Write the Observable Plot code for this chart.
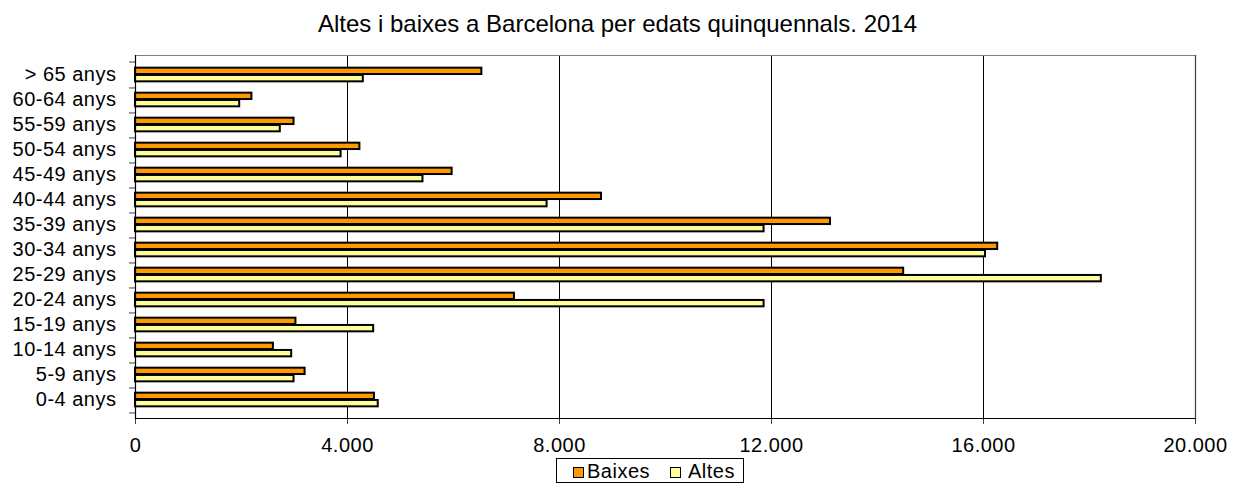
<!DOCTYPE html>
<html><head><meta charset="utf-8">
<script src="https://cdn.jsdelivr.net/npm/d3@7"></script>
<script src="https://cdn.jsdelivr.net/npm/@observablehq/plot@0.6"></script>
<style>
body{margin:0;background:#fff;font-family:"Liberation Sans",Arial,sans-serif;}
#wrap{position:relative;width:1235px;height:483px;overflow:hidden;background:#fff;}
#chart{position:absolute;left:0;top:0;}
#title{position:absolute;left:0;width:1235px;top:12px;text-align:center;font-size:24px;line-height:24px;color:#000;white-space:nowrap;}
#legend{position:absolute;left:556px;top:458px;width:188px;height:25px;border:1px solid #000;box-sizing:border-box;background:#fff;}
.sw{position:absolute;top:8px;width:11px;height:11px;border:1.6px solid #000;box-sizing:border-box;}
.lt{position:absolute;top:3px;font-size:20px;line-height:19px;color:#000;white-space:nowrap;letter-spacing:0.5px;}
</style>
</head><body>
<div id="wrap">
  <div id="chart"></div>
  <div id="title"></div>
  <div id="legend"></div>
</div>
<script>
const titleText = "Altes i baixes a Barcelona per edats quinquennals. 2014";
const categories = ["0-4 anys","5-9 anys","10-14 anys","15-19 anys","20-24 anys","25-29 anys","30-34 anys","35-39 anys","40-44 anys","45-49 anys","50-54 anys","55-59 anys","60-64 anys","> 65 anys"];
const baixes = [4508, 3200, 2602, 3027, 7150, 14494, 16268, 13113, 8792, 5974, 4234, 2991, 2196, 6535];
const altes  = [4580, 2991, 2947, 4494, 11860, 18223, 16038, 11860, 7766, 5424, 3879, 2732, 1966, 4298];
const xTicks = [0, 4000, 8000, 12000, 16000, 20000];
const seriesNames = ["Baixes", "Altes"];
const seriesColors = ["#FF9900", "#FFFF99"];

const fmt = d3.formatLocale({decimal: ",", thousands: ".", grouping: [3], currency: ["", "€"]}).format(",d");
const rows = categories.map((c, i) => ({cat: c, Baixes: baixes[i], Altes: altes[i]}));

const W = 1235, H = 483, mt = 55, mb = 65, ml = 135, mr = 40;
const bw = (H - mt - mb) / categories.length;
const barH = 7.3;
const off = (bw - 2 * barH) / 2;
const font = '"Liberation Sans", Arial, sans-serif';

const chart = Plot.plot({
  width: W, height: H,
  marginLeft: ml, marginRight: mr, marginTop: mt, marginBottom: mb,
  style: {fontFamily: font, fontSize: "20px", color: "#000", background: "transparent", letterSpacing: "0.5px"},
  x: {domain: [xTicks[0], xTicks[xTicks.length - 1]], label: null},
  y: {domain: categories.slice().reverse(), padding: 0, label: null},
  marks: [
    Plot.gridX(xTicks.slice(1, -1), {stroke: "#000", strokeOpacity: 1, strokeWidth: 1}),
    Plot.frame({anchor: "top", stroke: "#808080", strokeWidth: 1.2}),
    Plot.frame({anchor: "right", stroke: "#404040", strokeWidth: 1.2}),
    Plot.barX(rows, {y: "cat", x: seriesNames[0], fill: seriesColors[0], stroke: "#000", strokeWidth: 2,
      insetTop: off, insetBottom: bw - off - barH}),
    Plot.barX(rows, {y: "cat", x: seriesNames[1], fill: seriesColors[1], stroke: "#000", strokeWidth: 2,
      insetTop: off + barH, insetBottom: off}),
    Plot.axisX({ticks: xTicks, tickFormat: fmt, tickSize: 6, tickPadding: 13, stroke: "#404040", label: null}),
    Plot.axisY({tickSize: 0, tickPadding: 19, label: null}),
    Plot.axisY({tickFormat: () => "", tickSize: 6, dy: bw / 2, stroke: "#404040", label: null}),
    Plot.axisY({ticks: [categories[categories.length - 1]], tickFormat: () => "", tickSize: 6, dy: -bw / 2, stroke: "#404040", label: null}),
    Plot.frame({anchor: "left", stroke: "#000", strokeWidth: 1.2}),
    Plot.frame({anchor: "bottom", stroke: "#000", strokeWidth: 1.2})
  ]
});
document.getElementById("chart").appendChild(chart);
document.getElementById("title").textContent = titleText;

const legend = document.getElementById("legend");
const swX = [16, 113], txX = [30, 131];
seriesNames.forEach((name, i) => {
  const sw = document.createElement("div");
  sw.className = "sw";
  sw.style.left = swX[i] + "px";
  sw.style.background = seriesColors[i];
  legend.appendChild(sw);
  const t = document.createElement("div");
  t.className = "lt";
  t.style.left = txX[i] + "px";
  t.textContent = name;
  legend.appendChild(t);
});
</script>
</body></html>
